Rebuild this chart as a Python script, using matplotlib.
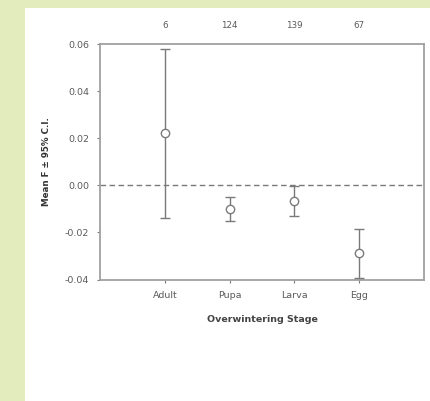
import matplotlib
matplotlib.use("Agg")
import matplotlib.pyplot as plt
from matplotlib.patches import Rectangle

stages = ["Adult", "Pupa", "Larva", "Egg"]
n_labels = ["6", "124", "139", "67"]
means = [0.022, -0.010, -0.0065, -0.0286]
upper = [0.058, -0.0048, -0.0003, -0.0186]
lower = [-0.014, -0.0153, -0.0129, -0.0393]
yticks = [-0.04, -0.02, 0.00, 0.02, 0.04, 0.06]

green = "#e3ecbc"
grey = "#7a7a7a"
txt = "#5a5a5a"

plt.rcParams["font.family"] = ["DejaVu Sans"]

fig = plt.figure(figsize=(4.30, 4.01), dpi=100)
fig.patch.set_facecolor(green)
fig.patches.append(Rectangle((25/430, 0), 1 - 25/430, (401-8)/401,
                             transform=fig.transFigure, facecolor="white",
                             edgecolor="none", zorder=-10))

ax = fig.add_axes([100/430, 1 - 279.5/401, 324/430, (279.5-44)/401])
ax.set_zorder(5)
ax.set_facecolor("white")
x = list(range(1, len(stages) + 1))
yerr = [[m - l for m, l in zip(means, lower)], [u - m for m, u in zip(means, upper)]]
ax.errorbar(x, means, yerr=yerr, fmt="o", mfc="white", mec=grey, ms=6,
            mew=1.0, ecolor=grey, elinewidth=1.0, capsize=3.5, capthick=1.0,
            color=grey, zorder=3)
ax.axhline(0, color=grey, ls=(0, (4, 2.5)), lw=1.0, zorder=1)

ax.set_xlim(0, 5)
ax.set_ylim(-0.04, 0.06)
ax.set_yticks(yticks)
ax.set_yticklabels([f"{v:.2f}" for v in yticks])
ax.set_xticks(x)
ax.set_xticklabels(stages)
for s in ax.spines.values():
    s.set_color("#a0a0a0")
    s.set_linewidth(1.3)
ax.tick_params(axis="both", colors=grey, labelcolor=txt, labelsize=6.8,
               length=2.5, width=0.8, direction="out")
ax.tick_params(axis="y", pad=5.5)
ax.tick_params(axis="x", pad=5.5)
ax.set_xlabel("Overwintering Stage", fontsize=6.8, color="#444444",
              fontweight="bold", labelpad=11)
ax.set_ylabel("Mean F ± 95% C.I.", fontsize=6.3, color="#333333",
              fontweight="bold", labelpad=10)

for xi, nl in zip(x, n_labels):
    ax.text(xi, 1.0 + 19/235.5, nl, transform=ax.get_xaxis_transform(),
            ha="center", va="center", fontsize=6.3, color=txt)

fig.savefig("out.png", dpi=100, facecolor=fig.get_facecolor())
